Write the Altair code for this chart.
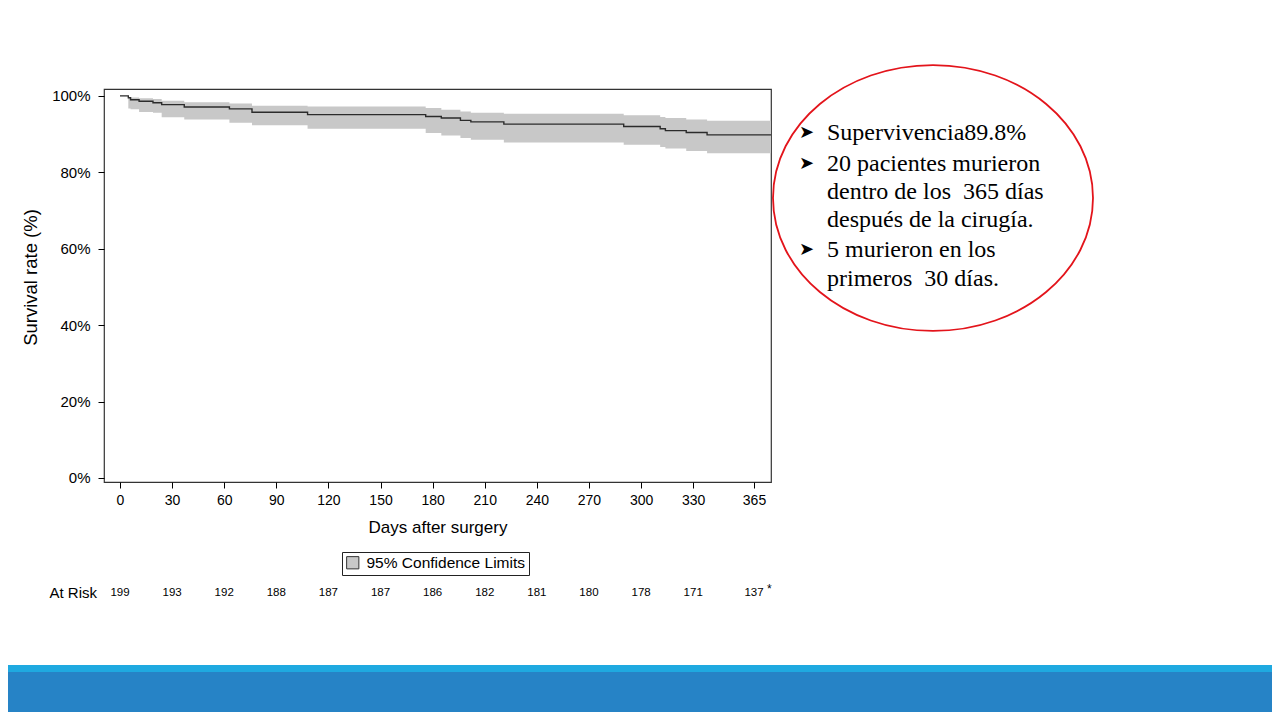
import altair as alt
import pandas as pd

# Kaplan-Meier step curve (days, survival %, 95% CI)
days = [0, 4.8, 6.1, 11, 19, 24, 37, 63, 76, 108, 176, 185, 196, 202, 221, 290, 311, 314, 326, 338, 374.8]
surv = [100, 99.5, 99.0, 98.6, 98.2, 97.7, 97.1, 96.6, 95.7, 95.1, 94.6, 94.2, 93.6, 93.2, 92.6, 92.0, 91.4, 90.9, 90.4, 89.8, 89.8]
upper = [100, 99.7, 99.6, 99.4, 99.2, 98.7, 98.3, 98.0, 97.4, 97.2, 96.8, 96.4, 95.9, 95.6, 95.3, 94.9, 94.5, 94.2, 93.8, 93.5, 93.5]
lower = [100, 96.7, 96.5, 95.8, 95.6, 94.4, 93.8, 93.0, 92.3, 91.4, 90.3, 89.6, 89.0, 88.5, 87.8, 87.2, 86.6, 86.2, 85.6, 85.0, 85.0]

risk_days = [0, 30, 60, 90, 120, 150, 180, 210, 240, 270, 300, 330, 365]
risk_n = [199, 193, 192, 188, 187, 187, 186, 182, 181, 180, 178, 171, 137]

x_ticks = [0, 30, 60, 90, 120, 150, 180, 210, 240, 270, 300, 330, 365]
y_ticks = [0, 20, 40, 60, 80, 100]

note_lines = [
    "Supervivencia89.8%",
    "20 pacientes murieron",
    "dentro de los\u00a0 365 días",
    "después de la cirugía.",
    "5 murieron en los",
    "primeros\u00a0 30 días.",
]
note_bullets = [True, True, False, False, True, False]

km = pd.DataFrame({"day": days, "surv": surv, "lower": lower, "upper": upper})
km["band"] = "95% Confidence Limits"
risk = pd.DataFrame({"day": risk_days, "n": risk_n})
one = pd.DataFrame({"k": [0]})

FONT = "Liberation Sans"
SERIF = "Liberation Serif"

X = alt.Scale(domain=[-9.2, 374.8], nice=False, zero=False)
Y = alt.Scale(domain=[-1.05, 101.8], nice=False, zero=False)

band = alt.Chart(km).mark_area(interpolate="step-after").encode(
    x=alt.X("day:Q", scale=X, axis=alt.Axis(values=x_ticks, title="Days after surgery",
                                            labelPadding=5, titlePadding=12,
                                            labelFontSize=14, titleFontSize=17)),
    y=alt.Y("lower:Q", scale=Y, axis=alt.Axis(values=y_ticks, title="Survival rate (%)",
                                              labelExpr="datum.value + '%'",
                                              labelFontSize=15, titleFontSize=18.5,
                                              titleY=188,
                                              labelPadding=8, titlePadding=11)),
    y2="upper:Q",
    fill=alt.Fill("band:N", scale=alt.Scale(range=["#c8c8c8"]),
                  legend=alt.Legend(title=None, orient="none", legendX=238, legendY=463,
                                    symbolType="square", symbolSize=150,
                                    symbolStrokeColor="#333", symbolStrokeWidth=1,
                                    labelFontSize=15.5, labelFont=FONT, labelColor="black",
                                    labelOffset=6, strokeColor="#222", padding=3)),
)

line = alt.Chart(km).mark_line(interpolate="step-after", color="#2b2b2b", strokeWidth=1.4).encode(
    x=alt.X("day:Q", scale=X),
    y=alt.Y("surv:Q", scale=Y),
)

risk_text = alt.Chart(risk).mark_text(fontSize=11.5, font=FONT, color="black", baseline="middle",
                                      align="center").encode(
    x=alt.X("day:Q", scale=X),
    y=alt.value(504),
    text="n:Q",
)

at_risk_label = alt.Chart(one).mark_text(text="At Risk", fontSize=15, font=FONT, color="black",
                                         align="right", baseline="middle").encode(
    x=alt.value(-7), y=alt.value(504))

star = alt.Chart(one).mark_text(text="*", fontSize=12, font=FONT, color="black",
                                align="left", baseline="middle").encode(
    x=alt.value(663), y=alt.value(500))

ellipse_path = ("M -1 0 C -1 -0.459 -0.5523 -0.831 0 -0.831 C 0.5523 -0.831 1 -0.459 1 0 "
                "C 1 0.459 0.5523 0.831 0 0.831 C -0.5523 0.831 -1 0.459 -1 0 Z")
ellipse = alt.Chart(one).mark_point(shape=ellipse_path, filled=False, stroke="#e3141b",
                                    strokeWidth=1.8, size=102400, opacity=1).encode(
    x=alt.value(829), y=alt.value(109))

line_y = [44, 75, 103, 131, 161, 190]
note_layers = []
for txt, bul, yy in zip(note_lines, note_bullets, line_y):
    note_layers.append(
        alt.Chart(one).mark_text(text=txt, fontSize=24, font=SERIF, color="black",
                                 align="left", baseline="middle").encode(
            x=alt.value(723), y=alt.value(yy)))
    if bul:
        note_layers.append(
            alt.Chart(one).mark_text(text="\u27a4", fontSize=18, font="DejaVu Sans", color="black",
                                     align="left", baseline="middle").encode(
                x=alt.value(695), y=alt.value(yy)))

bar_light = alt.Chart(one).mark_rect(color="#1fa9e0").encode(
    x=alt.value(-96), x2=alt.value(1168), y=alt.value(576), y2=alt.value(584))
bar_dark = alt.Chart(one).mark_rect(color="#2683c6").encode(
    x=alt.value(-96), x2=alt.value(1168), y=alt.value(583), y2=alt.value(624))

chart = alt.layer(band, line, risk_text, at_risk_label, star, ellipse, *note_layers,
                  bar_light, bar_dark).properties(
    width=667, height=393,
    autosize=alt.AutoSizeParams(type="none"),
    padding={"left": 96, "top": 81, "right": 501, "bottom": 230},
    background="white",
).configure_view(
    stroke="#333", strokeWidth=1.2
).configure_axis(
    domain=False, grid=False, tickColor="black", tickSize=6, ticks=True,
    labelFont=FONT, labelColor="black",
    titleFont=FONT, titleFontWeight="normal", titleColor="black",
)

chart.save("out.html", embed_options={"renderer": "svg", "actions": False})
